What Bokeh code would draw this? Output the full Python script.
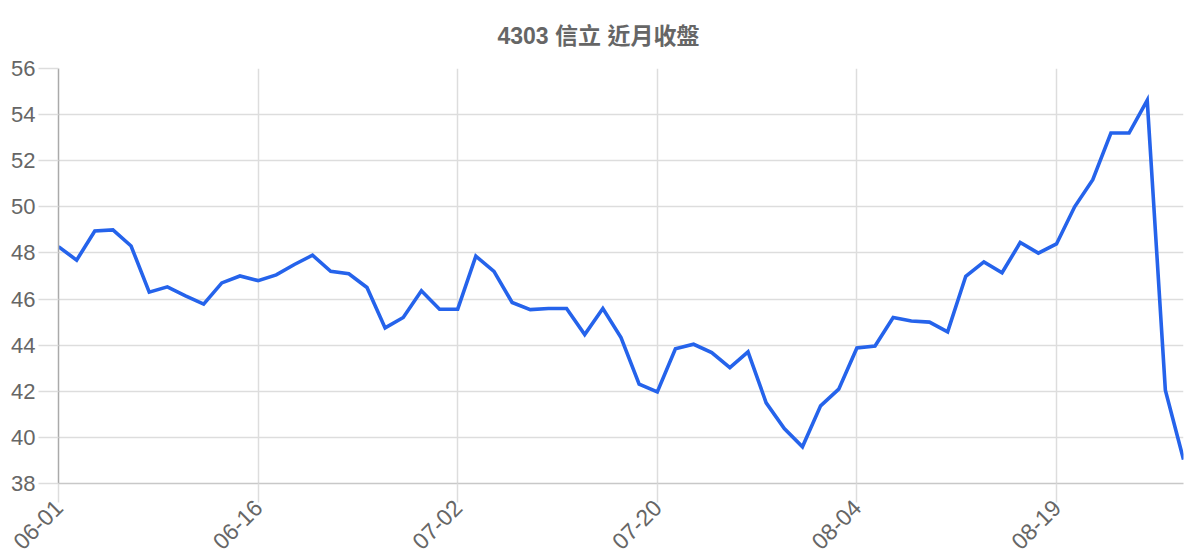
from bokeh.plotting import figure
from bokeh.models import FixedTicker, Range1d, ColumnDataSource
from bokeh.embed import file_html
from bokeh.resources import INLINE
import math

title_text = "4303 信立 近月收盤"

dates = [
    "06-01", "06-02", "06-03", "06-04", "06-05", "06-08", "06-09", "06-10", "06-11", "06-12",
    "06-15", "06-16", "06-17", "06-18", "06-19", "06-20", "06-22", "06-23", "06-24", "06-29",
    "06-30", "07-01", "07-02", "07-03", "07-06", "07-07", "07-08", "07-09", "07-10", "07-13",
    "07-14", "07-15", "07-16", "07-20", "07-21", "07-22", "07-23", "07-24", "07-27", "07-28",
    "07-29", "07-30", "07-31", "08-03", "08-04", "08-05", "08-06", "08-07", "08-10", "08-11",
    "08-12", "08-13", "08-14", "08-17", "08-18", "08-19", "08-20", "08-21", "08-24", "08-25",
    "08-26", "08-27", "08-28",
]

close = [
    48.27, 47.69, 48.95, 49.00, 48.30, 46.30, 46.53, 46.14, 45.78, 46.70,
    47.00, 46.80, 47.05, 47.50, 47.90, 47.20, 47.10, 46.50, 44.75, 45.20,
    46.36, 45.56, 45.56, 47.86, 47.20, 45.85, 45.54, 45.59, 45.59, 44.46,
    45.59, 44.33, 42.31, 41.97, 43.84, 44.04, 43.68, 43.03, 43.71, 41.50,
    40.38, 39.59, 41.37, 42.09, 43.88, 43.96, 45.20, 45.05, 45.00, 44.58,
    46.99, 47.61, 47.14, 48.45, 47.99, 48.39, 50.00, 51.18, 53.20, 53.20,
    54.62, 42.05, 39.04,
]

label_every = 11
y_ticks = [38, 40, 42, 44, 46, 48, 50, 52, 54, 56]

W, H = 1200, 560
B_LEFT, B_RIGHT, B_TOP, B_BOTTOM = 58, 17, 68, 76

idx = list(range(len(dates)))
src = ColumnDataSource(data=dict(x=idx, y=close, d=dates))

p = figure(width=W, height=H, output_backend="svg", toolbar_location=None,
           x_range=Range1d(0, len(dates) - 1), y_range=Range1d(y_ticks[0], y_ticks[-1]),
           min_border_left=B_LEFT, min_border_right=B_RIGHT,
           min_border_top=B_TOP, min_border_bottom=B_BOTTOM)

p.title.text = title_text
p.title.align = "left"
p.title.offset = 439
p.title.standoff = 40
p.title.text_font = "'Liberation Sans', 'Noto Sans CJK TC'"
p.title.text_font_size = "23px"
p.title.text_font_style = "bold"
p.title.text_color = "#666666"

p.line("x", "y", source=src, line_color="#2563eb", line_width=3.6, line_join="miter")

xt = idx[::label_every]
p.xaxis.ticker = FixedTicker(ticks=xt)
p.xaxis.major_label_overrides = {i: dates[i] for i in xt}
p.xaxis.major_label_orientation = math.pi / 4
p.yaxis.ticker = FixedTicker(ticks=y_ticks)

for ax in (p.xaxis, p.yaxis):
    ax.axis_line_width = 1.5
    ax.major_tick_line_color = "#dddddd"
    ax.major_tick_line_width = 1.5
    ax.major_tick_in = 0
    ax.minor_tick_line_color = None
    ax.major_label_text_color = "#666666"
    ax.major_label_text_font = "Liberation Sans"
    ax.major_label_text_font_size = "22px"

p.xaxis.major_label_text_font_size = "23px"
p.yaxis.axis_line_color = "#aaaaaa"
p.xaxis.axis_line_color = "#c8c8c8"
p.yaxis.major_tick_out = 20
p.yaxis.major_label_standoff = 3
p.xaxis.major_tick_out = 19
p.xaxis.major_label_standoff = 1

p.xgrid.ticker = FixedTicker(ticks=xt)
p.ygrid.ticker = FixedTicker(ticks=y_ticks)
for g in (p.xgrid, p.ygrid):
    g.grid_line_color = "#dddddd"
    g.grid_line_width = 1.5

p.outline_line_color = None
p.background_fill_color = "white"
p.border_fill_color = "white"

open("out.html", "w").write(file_html(p, INLINE))
